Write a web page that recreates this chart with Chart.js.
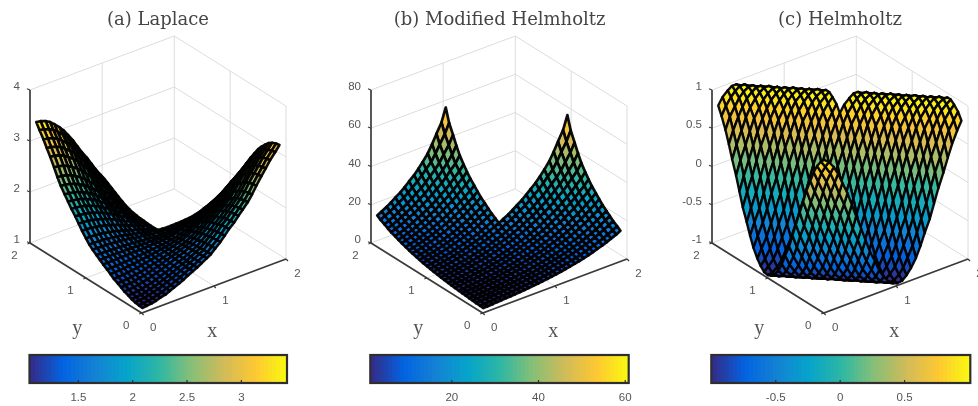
<!DOCTYPE html>
<html><head><meta charset="utf-8">
<script src="https://cdn.jsdelivr.net/npm/chart.js@4"></script>
<style>
html,body{margin:0;padding:0;background:#fff;width:978px;height:406px;overflow:hidden}
canvas{position:absolute;filter:blur(0.6px)}
</style></head><body>
<script>
// ---- data ----
const panelTitles=["(a) Laplace","(b) Modified Helmholtz","(c) Helmholtz"];
const xyTicks=[0,1,2];
const laplaceZTicks=[1,2,3,4];
const modifiedZTicks=[0,20,40,60,80];
const helmholtzZTicks=[-1,-0.5,0,0.5,1];
const laplaceBarTicks=[1.5,2,2.5,3];
const modifiedBarTicks=[20,40,60];
const helmholtzBarTicks=[-0.5,0,0.5];
const laplaceBarRange=[1.05,3.42];
const modifiedBarRange=[1.2,60.8];
const helmholtzBarRange=[-1,1.01];
const gridNodes=[0.04,0.10,0.17,0.23,0.29,0.36,0.42,0.48,0.55,0.61,0.67,0.74,0.80,0.86,0.93,0.99,1.05,1.12,1.18,1.24,1.31,1.37,1.43,1.50,1.56,1.62,1.69,1.75,1.81,1.88,1.94];
// Laplace: height along the x edge, along the y edge, and how fast each edge rise dies away inward
const laplaceBase=1.05;
const laplaceAlongX=[0,.01,.02,.04,.07,.09,.13,.17,.21,.25,.30,.35,.39,.44,.50,.55,.63,.72,.81,.91,1.0,1.10,1.19,1.30,1.42,1.56,1.71,1.83,1.96,2.08,2.19];
const laplaceAlongY=[0,.01,.02,.04,.07,.10,.14,.18,.22,.27,.32,.37,.42,.47,.53,.59,.67,.77,.87,.97,1.07,1.17,1.27,1.39,1.52,1.67,1.83,1.96,2.09,2.22,2.34];
const laplaceFalloff=[1,.995,.98,.96,.93,.89,.85,.80,.74,.68,.62,.56,.50,.44,.38,.33,.27,.21,.16,.11,.06,.02,-.02,-.05,-.08,-.10,-.12,-.12,-.12,-.11,-.10];
// Modified Helmholtz and Helmholtz: height read along successive diagonals of the grid
const modifiedByDiagonal=[1.3,1.4,1.5,1.7,1.8,2.0,2.1,2.3,2.5,2.7,2.9,3.2,3.4,3.7,4.0,4.4,4.7,5.1,5.6,6.0,6.6,7.1,7.7,8.4,9.1,9.9,10.7,11.6,12.6,13.7,14.9,16.2,17.6,19.1,20.7,22.5,24.4,26.5,28.8,31.3,34.0,37.5,41.5,46,51,58];
const helmholtzByDiagonal=[.97,.92,.83,.72,.58,.42,.25,.08,-.11,-.28,-.45,-.60,-.74,-.85,-.93,-.98,-1,-.99,-.94,-.87,-.76,-.63,-.48,-.32,-.14,.04,.22,.39,.55,.70,.81,.90,.96,1,1,.96,.90,.81,.69,.55,.39,.22,.03,-.14,-.32,-.49];

// ---- style ----
const colorStops=[[53,42,135],[3,99,225],[20,130,212],[6,164,202],[46,183,164],[135,191,119],[209,187,89],[254,200,50],[249,251,14]];
function cmap(t){t=Math.max(0,Math.min(1,t))*(colorStops.length-1);const k=Math.min(colorStops.length-2,Math.floor(t)),f=t-k;
  const c=colorStops[k].map((v,n)=>Math.round(v+(colorStops[k+1][n]-v)*f));return `rgb(${c[0]},${c[1]},${c[2]})`;}
const serif='"DejaVu Serif","Liberation Serif",serif', letterSerif='"Liberation Serif",serif', sans='"Liberation Sans",Arial,sans-serif';

const laplaceHeights=(i,j)=>laplaceBase+laplaceAlongX[i]*laplaceFalloff[j]+laplaceAlongY[j]*laplaceFalloff[i];
const panels=[
 {left:0, originX:141.7,zTicks:laplaceZTicks,barRange:laplaceBarRange,barTicks:laplaceBarTicks,height:laplaceHeights,mesh:2.6,meshColor:'rgba(0,0,0,.95)',titleX:158,barLeft:29.5,barRight:287},
 {left:326,originX:482.7,zTicks:modifiedZTicks,barRange:modifiedBarRange,barTicks:modifiedBarTicks,height:(i,j)=>modifiedByDiagonal[i+j],mesh:2.7,meshColor:'rgba(0,0,0,.95)',titleX:499.6,barLeft:370.3,barRight:628.7},
 {left:652,originX:823.7,zTicks:helmholtzZTicks,barRange:helmholtzBarRange,barTicks:helmholtzBarTicks,height:(i,j)=>helmholtzByDiagonal[i+j],mesh:2.4,meshColor:'rgba(0,0,0,.95)',titleX:840,barLeft:711.3,barRight:970.3}
];
const PW=326, PH=345, FLOOR_Y=313, TITLE_H=32;

function mkCanvas(left,top,w,h){const c=document.createElement('canvas');c.width=w;c.height=h;c.style.left=left+'px';c.style.top=top+'px';c.style.width=w+'px';c.style.height=h+'px';document.body.appendChild(c);return c;}

panels.forEach((p,pi)=>{
  const zMin=p.zTicks[0], zMax=p.zTicks[p.zTicks.length-1];
  const proj=(x,y,z)=>({x:p.originX+72.15*x-55.85*y, y:FLOOR_Y-27*x-35*y-153*(z-zMin)/(zMax-zMin)});
  const datasets=[];
  // surface cells, nearest first (Chart.js paints the first dataset last)
  const cells=[];
  const n=gridNodes.length-1;
  for(let j=0;j<n;j++)for(let i=0;i<n;i++){ if(i>=15&&j>=15)continue; cells.push([i,j]); }
  cells.sort((a,b)=>(a[0]+a[1])-(b[0]+b[1]));
  const [cLo,cHi]=p.barRange;
  cells.forEach(([i,j])=>{
    const corners=[[i,j],[i+1,j],[i+1,j+1],[i,j+1],[i,j]];
    const zs=corners.slice(0,4).map(([a,b])=>p.height(a,b));
    const zAvg=zs.reduce((s,v)=>s+v,0)/4;
    datasets.push({type:'scatter',showLine:true,fill:'shape',tension:0,borderDash:[1000,0],borderJoinStyle:'round',borderCapStyle:'round',pointRadius:0,clip:false,
      backgroundColor:cmap((zAvg-cLo)/(cHi-cLo)),borderColor:p.meshColor,borderWidth:p.mesh,
      data:corners.map(([a,b])=>proj(gridNodes[a],gridNodes[b],p.height(a,b)))});
  });
  const line=(pts,color,w)=>datasets.push({type:'scatter',showLine:true,fill:false,tension:0,pointRadius:0,clip:false,borderColor:color,borderWidth:w,data:pts.map(q=>proj(q[0],q[1],q[2]))});
  // axes then grid (grid painted first)
  const axisC='#3a3a3a';
  line([[0,2,zMin],[0,2,zMax]],axisC,1.7);
  line([[0,2,zMin],[0,0,zMin],[2,0,zMin]],axisC,1.7);
  const gridC='#dcdcdc';
  p.zTicks.forEach(z=>line([[0,2,z],[2,2,z],[2,0,z]],gridC,1));
  xyTicks.forEach(v=>{ if(v>0) line([[v,2,zMin],[v,2,zMax]],gridC,1); if(v<2) line([[2,v,zMin],[2,v,zMax]],gridC,1); });
  line([[1,0,zMin],[1,2,zMin]],gridC,1);
  line([[0,1,zMin],[2,1,zMin]],gridC,1);

  const textPlugin={id:'axisText',afterDatasetsDraw(ch){
    const c=ch.ctx,sx=ch.scales.x,sy=ch.scales.y;
    const P=(x,y,z)=>{const q=proj(x,y,z);return [sx.getPixelForValue(q.x),sy.getPixelForValue(q.y)];};
    c.save();c.strokeStyle=axisC;c.lineWidth=1.2;
    c.fillStyle='#555';c.font='11.5px '+sans;c.textBaseline='middle';
    p.zTicks.forEach(z=>{const [a,b]=P(0,2,z);c.textAlign='right';c.fillText(String(z),a-10,b-3);
      c.beginPath();c.moveTo(a,b);c.lineTo(a-3,b-1.2);c.stroke();});
    c.textAlign='center';
    xyTicks.forEach(v=>{const [a,b]=P(v,0,zMin);c.fillText(String(v),a+11.5,b+14.5);
      c.beginPath();c.moveTo(a,b);c.lineTo(a+2,b+2);c.stroke();
      const [d,e]=P(0,v,zMin);c.fillText(String(v),d-15.5,e+13);
      c.beginPath();c.moveTo(d,e);c.lineTo(d-2.5,e+1);c.stroke();});
    c.font='20px '+letterSerif;
    const [ox,oy]=P(0,0,zMin);
    c.fillText('y',ox-64.5,oy+16);
    c.fillText('x',ox+70.5,oy+19);
    c.restore();
  }};
  // side padding centres the title over its plot; the x scale keeps page units
  const centre=p.titleX-p.left, padL=Math.max(0,2*centre-PW), padR=Math.max(0,PW-2*centre);
  new Chart(mkCanvas(p.left,0,PW,PH),{type:'scatter',data:{datasets},plugins:[textPlugin],options:{
    responsive:false,animation:false,events:[],
    layout:{padding:{left:padL,right:padR,top:0,bottom:0}},
    plugins:{legend:{display:false},tooltip:{enabled:false},
      title:{display:true,text:panelTitles[pi],color:'#454545',align:'center',fullSize:false,
        font:{family:serif,size:18,weight:'normal',lineHeight:1.2},padding:{top:9.2,bottom:1.2}}},
    scales:{x:{type:'linear',display:false,min:p.left+padL,max:p.left+PW-padR},
            y:{type:'linear',display:false,reverse:true,min:TITLE_H,max:PH}}
  }});

  // colour bar
  const bins=64, barDs=[];
  for(let b=0;b<bins;b++){const lo=cLo+(cHi-cLo)*b/bins, hi=cLo+(cHi-cLo)*(b+1.15)/bins;
    barDs.push({data:[[lo,Math.min(hi,cHi)]],backgroundColor:cmap((b+.5)/bins),borderWidth:0,grouped:false,barPercentage:1,categoryPercentage:1});}
  const framePlugin={id:'barFrame',afterDatasetsDraw(ch){
    const a=ch.chartArea,c=ch.ctx,s=ch.scales.x;c.save();c.strokeStyle='#2e2e2e';c.lineWidth=2.2;
    c.strokeRect(a.left,a.top,a.right-a.left,a.bottom-a.top);
    c.lineWidth=1.2;p.barTicks.forEach(v=>{const px=s.getPixelForValue(v);c.beginPath();c.moveTo(px,a.bottom);c.lineTo(px,a.bottom-3);c.stroke();});
    c.restore();}};
  new Chart(mkCanvas(p.left,345,PW,61),{type:'bar',data:{labels:['colorbar'],datasets:barDs},plugins:[framePlugin],options:{
    indexAxis:'y',responsive:false,animation:false,events:[],
    layout:{padding:{left:p.barLeft-p.left,right:p.left+PW-p.barRight,top:10,bottom:0}},
    plugins:{legend:{display:false},tooltip:{enabled:false},title:{display:false}},
    scales:{y:{display:false,stacked:false},
      x:{type:'linear',min:cLo,max:cHi,afterFit(s){s.height=23;},
        afterBuildTicks(s){s.ticks=p.barTicks.map(v=>({value:v}));},
        grid:{display:false,drawTicks:false},border:{display:false},
        ticks:{color:'#555',font:{family:sans,size:11.5},padding:8,maxRotation:0,autoSkip:false,callback:v=>String(v)}}}
  }});
});
</script></body></html>
